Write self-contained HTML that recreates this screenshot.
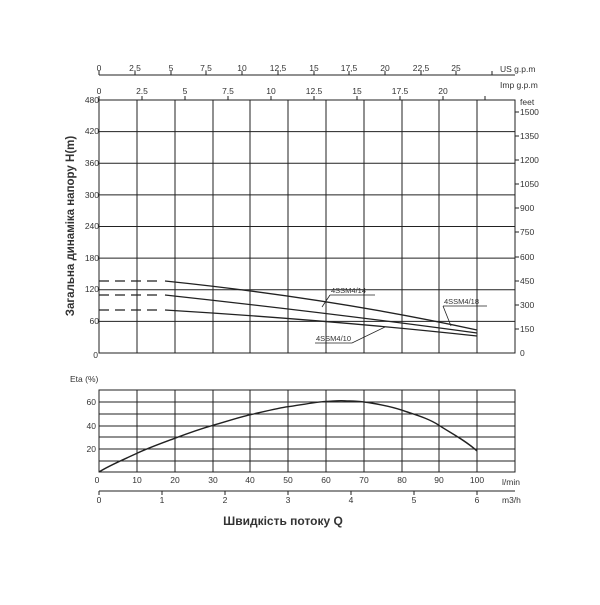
<!DOCTYPE html><html><head><style>body{margin:0;background:#fff}</style></head><body>
<svg width="600" height="600" xmlns="http://www.w3.org/2000/svg" font-family="Liberation Sans, sans-serif" fill="#333">
<g stroke="#222" stroke-width="1" fill="none">
<rect x="99" y="100" width="416" height="253"/>
<path d="M137 100V353M175 100V353M213 100V353M250 100V353M288 100V353M326 100V353M364 100V353M402 100V353M439 100V353M477 100V353"/>
<path d="M99 131.6H515M99 163.2H515M99 194.9H515M99 226.5H515M99 258.1H515M99 289.7H515M99 321.4H515"/>
<rect x="99" y="390" width="416" height="82"/>
<path d="M137 390V472M175 390V472M213 390V472M250 390V472M288 390V472M326 390V472M364 390V472M402 390V472M439 390V472M477 390V472"/>
<path d="M99 402H515M99 414H515M99 426H515M99 437H515M99 449H515M99 461H515"/>
<path d="M99 75H515M99 75v-4M135 75v-4M171 75v-4M206 75v-4M242 75v-4M278 75v-4M314 75v-4M349 75v-4M385 75v-4M421 75v-4M456 75v-4M492 75v-4"/>
<path d="M99 100v-4M142 100v-4M185 100v-4M228 100v-4M271 100v-4M314 100v-4M357 100v-4M400 100v-4M443 100v-4M485 100v-4"/>
<path d="M99 491H515M99 491v4M162 491v4M225 491v4M288 491v4M351 491v4M414 491v4M477 491v4"/>
<path d="M515 112h4M515 136h4M515 160h4M515 184h4M515 208h4M515 232h4M515 257h4M515 281h4M515 305h4M515 329h4"/>
<path d="M99 281H160M99 295H160M99 310H160" stroke-dasharray="10,6" stroke-width="1.3"/>
<path d="M165 281Q330 298 477 330" stroke-width="1.3"/>
<path d="M165 295Q330 313 477 333" stroke-width="1.3"/>
<path d="M165 310Q330 320 477 336" stroke-width="1.3"/>
<path d="M99 472C110 465 125 459 137 453.3S165 442 175 438.2S200 429 213 425.3S240 417 250 414.8S278 408 288 406.7S315 402 326 401.4S338 400.5 345 400.8S356 401 364 402S390 406 402 410.2S428 418 439 425.3S465 440 477 451" stroke-width="1.4"/>
<path d="M330 295H375M330 295L322 307M443 306H487M443 306L451 326M315 343H352L385 327" stroke-width="0.8"/>
</g>
<g font-size="8.5" text-anchor="middle">
<text x="99" y="71">0</text><text x="135" y="71">2,5</text><text x="171" y="71">5</text><text x="206" y="71">7,5</text><text x="242" y="71">10</text><text x="278" y="71">12,5</text><text x="314" y="71">15</text><text x="349" y="71">17,5</text><text x="385" y="71">20</text><text x="421" y="71">22,5</text><text x="456" y="71">25</text>
<text x="99" y="94">0</text><text x="142" y="94">2.5</text><text x="185" y="94">5</text><text x="228" y="94">7.5</text><text x="271" y="94">10</text><text x="314" y="94">12.5</text><text x="357" y="94">15</text><text x="400" y="94">17.5</text><text x="443" y="94">20</text>
<text x="137" y="483">10</text>
<text x="175" y="483">20</text><text x="213" y="483">30</text><text x="250" y="483">40</text><text x="288" y="483">50</text><text x="326" y="483">60</text><text x="364" y="483">70</text><text x="402" y="483">80</text><text x="439" y="483">90</text><text x="477" y="483">100</text>
<text x="99" y="503">0</text><text x="162" y="503">1</text><text x="225" y="503">2</text><text x="288" y="503">3</text><text x="351" y="503">4</text><text x="414" y="503">5</text><text x="477" y="503">6</text>
<text x="97" y="483">0</text>
</g>
<g font-size="8.5" text-anchor="end">
<text x="99" y="103">480</text><text x="99" y="134">420</text><text x="99" y="166">360</text><text x="99" y="198">300</text><text x="99" y="229">240</text><text x="99" y="261">180</text><text x="99" y="292">120</text><text x="99" y="324">60</text><text x="98" y="358">0</text>
<text x="96" y="405">60</text><text x="96" y="429">40</text><text x="96" y="452">20</text>
</g>
<g font-size="8.5">
<text x="520" y="115">1500</text><text x="520" y="139">1350</text><text x="520" y="163">1200</text><text x="520" y="187">1050</text><text x="520" y="211">900</text><text x="520" y="235">750</text><text x="520" y="260">600</text><text x="520" y="284">450</text><text x="520" y="308">300</text><text x="520" y="332">150</text><text x="520" y="356">0</text>
<text x="520" y="105">feet</text>
<text x="500" y="72">US g.p.m</text><text x="500" y="88">Imp g.p.m</text>
<text x="502" y="485">l/min</text><text x="502" y="503">m3/h</text>
<text x="70" y="382">Eta (%)</text>
<text x="331" y="293" font-size="7.5">4SSM4/14</text>
<text x="444" y="304" font-size="7.5">4SSM4/18</text>
<text x="316" y="341" font-size="7.5">4SSM4/10</text>
</g>
<text x="283" y="525" font-size="12" font-weight="bold" text-anchor="middle">Швидкість потоку Q</text>
<text transform="translate(74,226) rotate(-90)" font-size="11.5" font-weight="bold" text-anchor="middle">Загальна динаміка напору H(m)</text>
</svg>
</body></html>
